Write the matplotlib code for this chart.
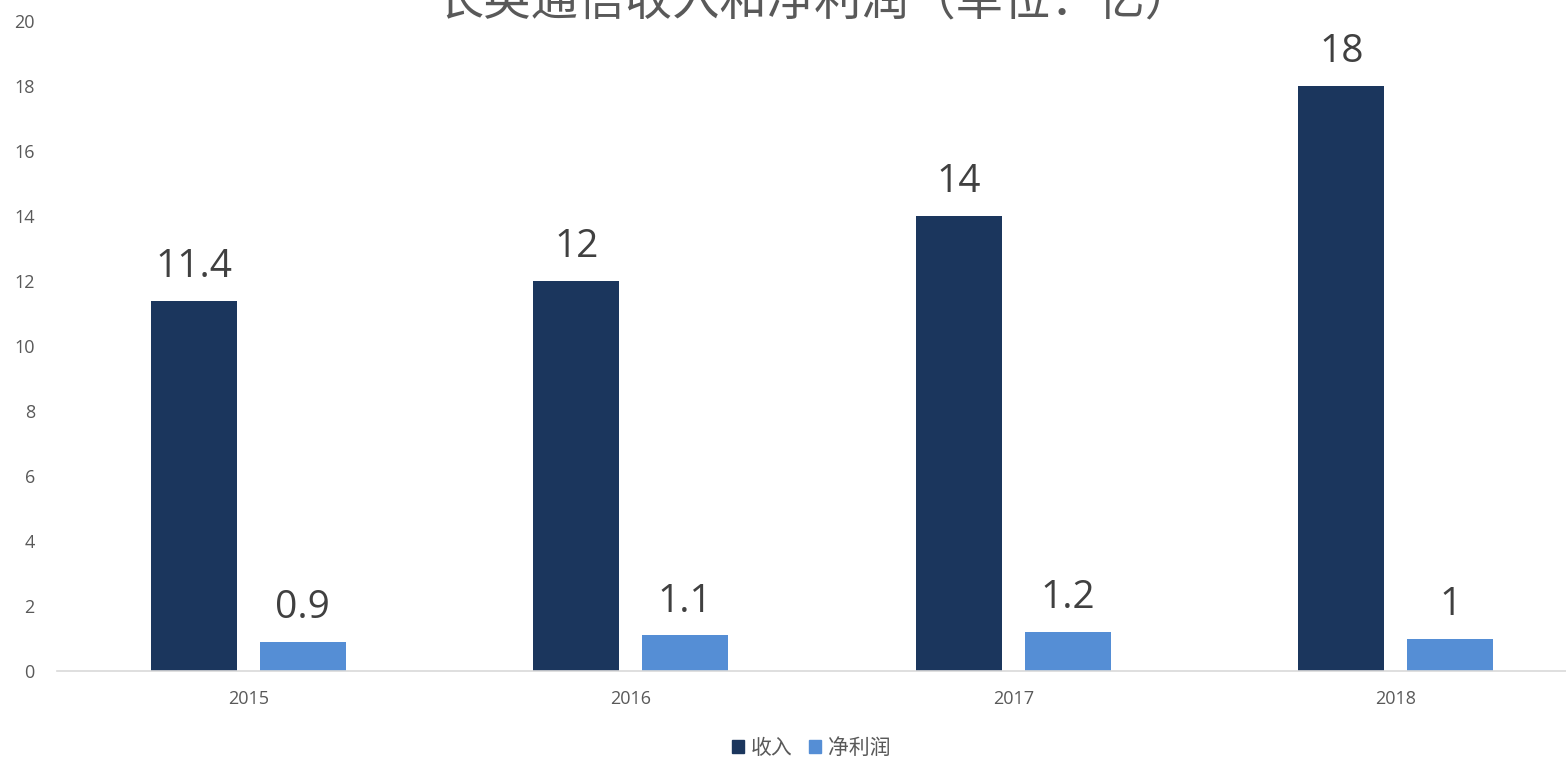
import matplotlib.pyplot as plt
import matplotlib.patches as mpatches
import numpy as np

plt.rcParams['font.family'] = ['Open Sans', 'Noto Sans CJK SC', 'DejaVu Sans']

years = ['2015', '2016', '2017', '2018']
revenue = [11.4, 12, 14, 18]
profit = [0.9, 1.1, 1.2, 1]
revenue_labels = ['11.4', '12', '14', '18']
profit_labels = ['0.9', '1.1', '1.2', '1']
title = '长英通信收入和净利润（单位：亿）'

c_rev = '#1b365d'
c_pro = '#558ed5'

W, H = 1566, 759
fig = plt.figure(figsize=(W / 100, H / 100), dpi=100)
# axis extends a little past the right edge, as in the reference
ax = fig.add_axes([57 / W, (H - 671) / H, 1530 / W, 650 / H])

x = np.arange(len(years))
bw = 0.225
off = 0.1425
b1 = ax.bar(x - off, revenue, bw, color=c_rev)
b2 = ax.bar(x + off, profit, bw, color=c_pro)

for rect, lab in zip(b1, revenue_labels):
    ax.text(rect.get_x() + rect.get_width() / 2, rect.get_height() + 0.45, lab,
            ha='center', va='bottom', fontsize=28, color='#404040')
for rect, lab in zip(b2, profit_labels):
    ax.text(rect.get_x() + rect.get_width() / 2, rect.get_height() + 0.45, lab,
            ha='center', va='bottom', fontsize=28, color='#404040')

ax.set_xlim(-0.5, 3.5)
ax.set_ylim(0, 20)
ax.set_yticks(range(0, 21, 2))
ax.set_xticks(x)
ax.set_xticklabels(years)
ax.tick_params(axis='both', length=0, labelsize=13, colors='#595959')
ax.tick_params(axis='y', pad=16)
ax.tick_params(axis='x', pad=14)
for s in ['top', 'right', 'left']:
    ax.spines[s].set_visible(False)
ax.spines['bottom'].set_color('#d9d9d9')
ax.spines['bottom'].set_linewidth(1.2)

# title sits mostly above the canvas, as in the reference
fig.text(814 / W, (H - 14) / H, title, ha='center', va='baseline',
         fontsize=34, color='#595959', family=['Noto Sans CJK SC'])

handles = [mpatches.Patch(color=c_rev, label='收入'),
           mpatches.Patch(color=c_pro, label='净利润')]
leg = fig.legend(handles=handles, loc='center', bbox_to_anchor=(811 / W, (H - 748) / H),
                 ncol=2, frameon=False, handlelength=0.6, handleheight=0.6,
                 handletextpad=0.3, columnspacing=0.8,
                 prop={'family': ['Noto Sans CJK SC'], 'size': 15})
for t in leg.get_texts():
    t.set_color('#595959')

fig.savefig('out.png', dpi=100)
